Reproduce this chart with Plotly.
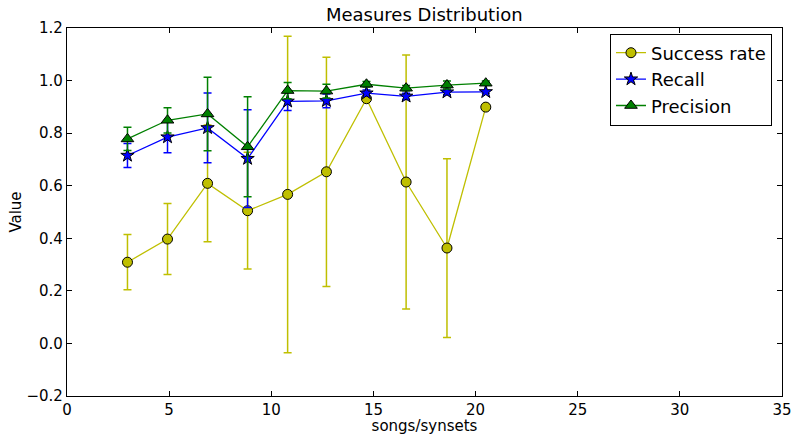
import plotly.graph_objects as go

x_vals = [2.96, 4.92, 6.88, 8.84, 10.8, 12.7, 14.66, 16.6, 18.6, 20.5]

success = [0.309, 0.397, 0.609, 0.505, 0.567, 0.653, 0.931, 0.614, 0.363, 0.899]
success_err = [0.105, 0.135, 0.222, 0.222, 0.602, 0.436, 0.0, 0.483, 0.340, 0.0]

recall = [0.715, 0.785, 0.820, 0.703, 0.921, 0.923, 0.952, 0.940, 0.956, 0.957]
recall_err = [0.046, 0.060, 0.133, 0.186, 0.035, 0.026, 0.012, 0.012, 0.010, 0.005]

precision = [0.778, 0.849, 0.873, 0.748, 0.962, 0.960, 0.986, 0.971, 0.983, 0.990]
precision_err = [0.044, 0.048, 0.140, 0.190, 0.031, 0.026, 0.010, 0.010, 0.015, 0.008]

x_ticks = [0, 5, 10, 15, 20, 25, 30, 35]
y_ticks = [-0.2, 0.0, 0.2, 0.4, 0.6, 0.8, 1.0, 1.2]
y_tick_text = ["\u22120.2", "0.0", "0.2", "0.4", "0.6", "0.8", "1.0", "1.2"]

fig = go.Figure()


def add_series(name, y, err, color, symbol, size):
    fig.add_trace(go.Scatter(
        x=x_vals, y=y, name=name, mode="lines+markers",
        line=dict(color=color, width=1.3),
        marker=dict(color=color, symbol=symbol, size=size,
                    line=dict(color="black", width=1)),
        error_y=dict(type="data", array=err, visible=True, color=color,
                     thickness=1.5, width=4),
    ))


add_series("Success rate", success, success_err, "#bfbf00", "circle", 10)
add_series("Recall", recall, recall_err, "#0000ff", "star", 10)
add_series("Precision", precision, precision_err, "#008000", "triangle-up", 11)

axis_common = dict(
    showline=True, linecolor="black", linewidth=1.3, mirror="ticks",
    ticks="inside", ticklen=5, tickwidth=1, tickcolor="black",
    showgrid=False, zeroline=False, automargin=False,
    tickfont=dict(family="DejaVu Sans", size=15, color="black"),
)

fig.update_layout(
    width=793, height=435,
    margin=dict(l=67, r=11, t=28, b=39),
    paper_bgcolor="white", plot_bgcolor="white",
    font=dict(family="DejaVu Sans", size=15, color="black"),
    title=dict(text="Measures Distribution", x=0.535, xanchor="center",
               y=0.9655, yanchor="middle",
               font=dict(family="DejaVu Sans", size=18, color="black")),
    xaxis=dict(range=[0, 35], tickvals=x_ticks,
               title=dict(text="songs/synsets", standoff=0,
                          font=dict(size=15)),
               **axis_common),
    yaxis=dict(range=[-0.2, 1.2], tickvals=y_ticks, ticktext=y_tick_text,
               title=dict(text="Value", standoff=1, font=dict(size=15)),
               **axis_common),
    legend=dict(x=0.986, y=0.985, xanchor="right", yanchor="top",
                bgcolor="white", bordercolor="black", borderwidth=1,
                font=dict(family="DejaVu Sans", size=18),
                tracegroupgap=0, itemsizing="trace"),
    showlegend=True,
)

fig.write_html("out.html", config={"displayModeBar": False},
               post_script="document.body.style.margin='0';")
